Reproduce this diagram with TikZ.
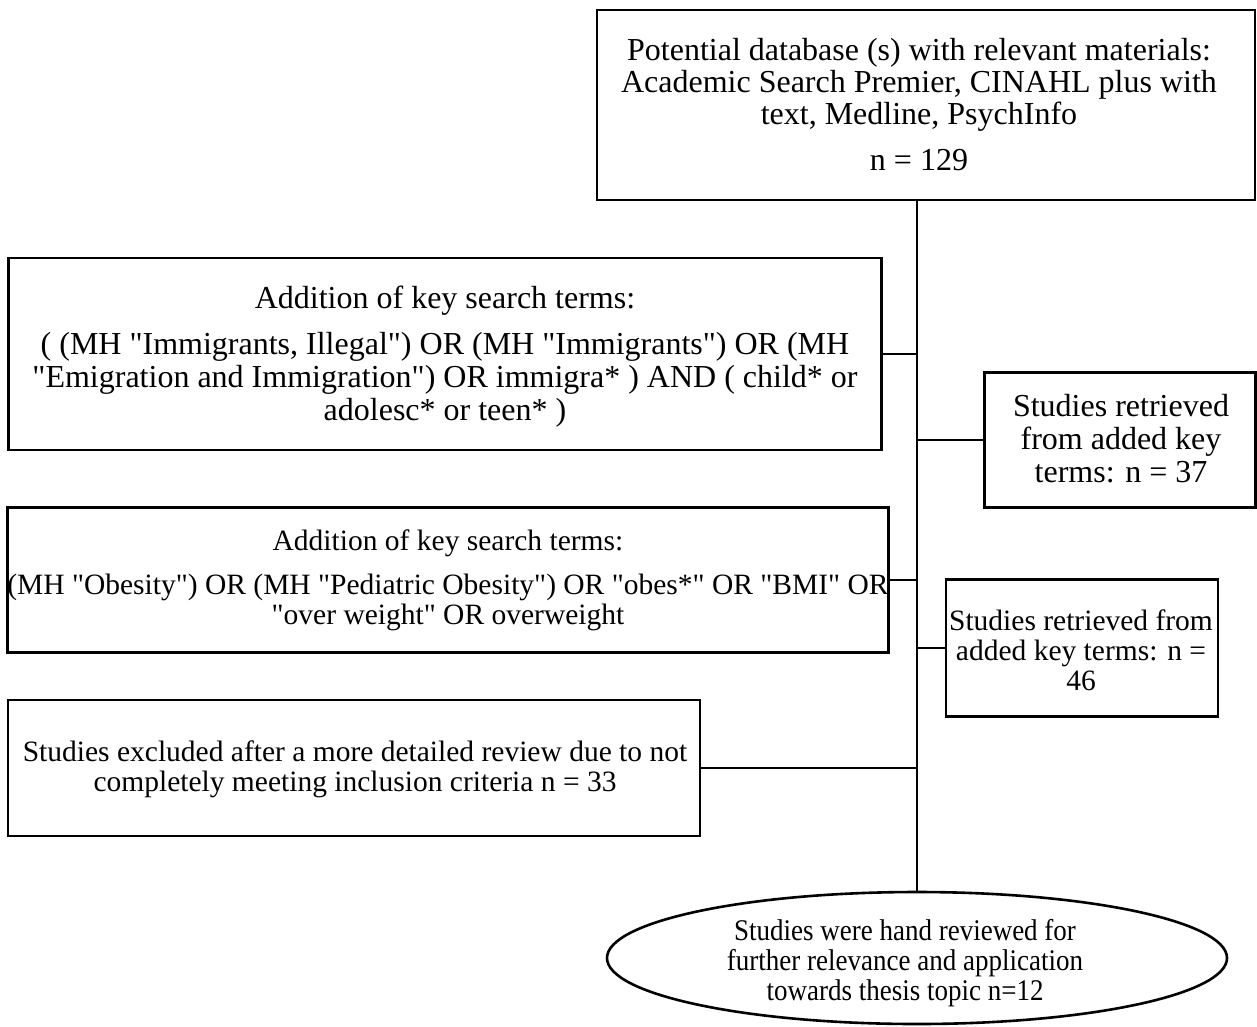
\documentclass[tikz,border=0pt]{standalone}
\usepackage{fontspec}
\newfontfamily\tnr{Liberation Serif}
\usetikzlibrary{shapes.geometric}
\begin{document}
\begin{tikzpicture}[x=1pt,y=-1pt,
  every node/.style={align=center, inner sep=0pt},
  big/.style={font=\tnr\fontsize{32}{33}\selectfont},
  mid/.style={font=\tnr\fontsize{29.5}{30}\selectfont},
  narrow/.style={font=\tnr\fontsize{30}{30}\selectfont, transform shape, xscale=0.9},
  boxnode/.style={draw, line width=2.6pt, rectangle},
  conn/.style={line width=2.6pt}]
\useasboundingbox (0,0) rectangle (1257,1026);
% boxes
\node[boxnode, minimum width=658pt, minimum height=190pt] (top) at (926,105) {};
\node[boxnode, minimum width=873pt, minimum height=192pt] (b2) at (445,354) {};
\node[boxnode, minimum width=271pt, minimum height=135pt] (b3) at (1120,440) {};
\node[boxnode, minimum width=881pt, minimum height=145pt] (b4) at (448,580) {};
\node[boxnode, minimum width=272pt, minimum height=137pt] (b5) at (1082,648) {};
\node[boxnode, minimum width=692pt, minimum height=136pt] (b6) at (354,768) {};
\node[draw, line width=2.6pt, ellipse, minimum width=620pt, minimum height=132pt] (ell) at (917,958) {};
% texts
\node[big, font=\tnr\fontsize{32}{32}\selectfont] (ttop) at (919,105)
  {Potential database (s) with relevant materials:\\Academic Search Premier, CINAHL plus with\\text, Medline, PsychInfo\\[14pt]n = 129};
\node[big] (tb2) at (445,357)
  {Addition of key search terms:\\[13pt]( (MH "Immigrants, Illegal") OR (MH "Immigrants") OR (MH\\"Emigration and Immigration") OR immigra* ) AND ( child* or\\adolesc* or teen* )};
\node[big] (tb3) at (1121,439)
  {Studies retrieved\\from added key\\terms: n = 37};
\node[mid] (tb4) at (448,580)
  {Addition of key search terms:\\[14pt](MH "Obesity") OR (MH "Pediatric Obesity") OR "obes*" OR "BMI" OR\\"over weight" OR overweight};
\node[mid] (tb5) at (1081,650)
  {Studies retrieved from\\added key terms: n =\\46};
\node[mid] (tb6) at (355,769)
  {Studies excluded after a more detailed review due to not\\completely meeting inclusion criteria n = 33};
\node[narrow] (tell) at (905,963)
  {Studies were hand reviewed for\\further relevance and application\\towards thesis topic n=12};
% connectors
\draw[conn] (top.south -| ell.north) -- (ell.north);
\draw[conn] (b2.east) -- (b2.east -| ell.north);
\draw[conn] (b3.west) -- (b3.west -| ell.north);
\draw[conn] (b4.east) -- (b4.east -| ell.north);
\draw[conn] (b5.west) -- (b5.west -| ell.north);
\draw[conn] (b6.east) -- (b6.east -| ell.north);
\end{tikzpicture}
\end{document}
